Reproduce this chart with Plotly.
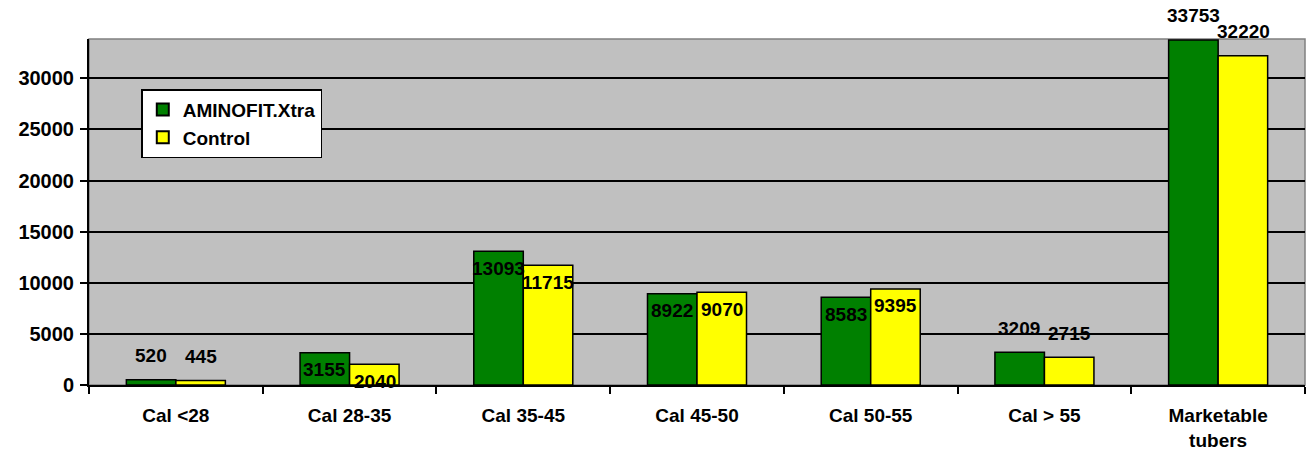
import plotly.graph_objects as go

categories = ["Cal <28", "Cal 28-35", "Cal 35-45", "Cal 45-50", "Cal 50-55", "Cal > 55", "Marketable<br>tubers"]
aminofit = [520, 3155, 13093, 8922, 8583, 3209, 33753]
control = [445, 2040, 11715, 9070, 9395, 2715, 32220]
series_names = ["AMINOFIT.Xtra", "Control"]
y_ticks = [0, 5000, 10000, 15000, 20000, 25000, 30000]

# label placement style (above / below bar top), as Excel placed them
aminofit_place = ["above", "below", "below", "below", "below", "above", "above"]
control_place = ["above", "below", "below", "below", "below", "above", "above"]

FONT = "Liberation Sans, Arial, sans-serif"

fig = go.Figure()
fig.add_trace(go.Bar(x=categories, y=aminofit, name=f"<b>{series_names[0]}</b>",
                     marker=dict(color="#008000", line=dict(color="black", width=1.5))))
fig.add_trace(go.Bar(x=categories, y=control, name=f"<b>{series_names[1]}</b>",
                     marker=dict(color="#FFFF00", line=dict(color="black", width=1.5))))

annotations = []
for vals, places, xs in ((aminofit, aminofit_place, -25), (control, control_place, 25)):
    for c, v, p in zip(categories, vals, places):
        annotations.append(dict(x=c, y=v, xref="x", yref="y", text=f"<b>{v}</b>",
                                showarrow=False, xshift=xs,
                                yshift=24 if p == "above" else -17,
                                font=dict(size=19, color="black", family=FONT)))

fig.update_layout(
    width=1311, height=458,
    margin=dict(l=89, r=6, t=39, b=73),
    paper_bgcolor="white", plot_bgcolor="#C0C0C0",
    barmode="group", bargap=0.43, bargroupgap=0,
    font=dict(family=FONT, size=18, color="black"),
    showlegend=True,
    legend=dict(x=0.043, y=0.855, xanchor="left", yanchor="top",
                bgcolor="white", bordercolor="black", borderwidth=1.5,
                font=dict(size=19, family=FONT), traceorder="normal",
                itemsizing="constant", itemwidth=30, tracegroupgap=2),
    annotations=annotations,
    shapes=[dict(type="rect", xref="paper", yref="paper", x0=0, x1=1, y0=0, y1=1,
                 line=dict(color="#808080", width=1.5), layer="below")],
)
fig.update_xaxes(showline=True, linecolor="black", linewidth=2,
                 ticks="outside", tickson="boundaries", ticklen=7, tickwidth=2, tickcolor="black",
                 tickfont=dict(size=19, family=FONT), tickprefix="<b>", ticksuffix="</b>",
                 ticklabelstandoff=12, showgrid=False)
fig.update_yaxes(range=[0, 33850], tickvals=y_ticks, ticktext=[f"<b>{t}</b>" for t in y_ticks],
                 showline=True, linecolor="black", linewidth=2,
                 ticks="outside", ticklen=7, tickwidth=2, tickcolor="black",
                 showgrid=True, gridcolor="black", gridwidth=1.5, zeroline=False,
                 tickfont=dict(size=20, family=FONT), ticklabelstandoff=2)

fig.write_html("out.html", config={"displayModeBar": False},
               post_script="document.body.style.margin='0';")
